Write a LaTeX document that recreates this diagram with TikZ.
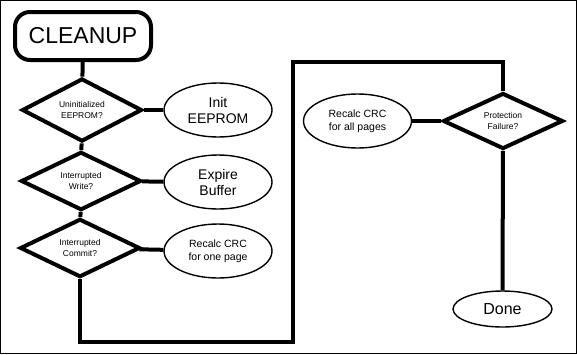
\documentclass[tikz,border=0pt]{standalone}
\usepackage{fontspec}
\setmainfont{Liberation Sans}
\usetikzlibrary{shapes.geometric}
\begin{document}
\begin{tikzpicture}[x=1pt,y=-1pt,
	test/.style={diamond, draw, line width=4pt, minimum width=120pt, minimum height=56pt,
		inner sep=0pt, align=center, font=\fontsize{8.5}{11}\selectfont},
	task/.style={ellipse, draw, line width=1.4pt, minimum width=108pt, minimum height=54pt,
		inner sep=0pt, align=center},
	conn/.style={line width=4pt}]
	\useasboundingbox (0,0) rectangle (577,354);
	\draw[line width=1pt] (0.5,0.5) rectangle (576.5,353.5);
	% left column
	\node[draw, line width=4pt, rounded corners=15pt, minimum width=136pt, minimum height=48pt,
		font=\fontsize{23}{26}\selectfont] (cleanup) at (83,36) {CLEANUP};
	\node[test] (uninit) at (82,110) {Uninitialized\\EEPROM?};
	\node[test] (intwrite) at (81,181) {Interrupted\\Write?};
	\node[test] (intcommit) at (80,248) {Interrupted\\Commit?};
	\node[task, font=\fontsize{14}{16}\selectfont] (initee) at (218,110) {Init\\EEPROM};
	\node[task, font=\fontsize{14}{16}\selectfont] (expire) at (218,182) {Expire\\Buffer};
	\node[task, font=\fontsize{10.5}{13}\selectfont] (crcone) at (218,251) {Recalc CRC\\for one page};
	% right column
	\node[test] (protfail) at (503,121) {Protection\\Failure?};
	\node[task, font=\fontsize{10.5}{13}\selectfont] (crcall) at (357.5,121) {Recalc CRC\\for all pages};
	\node[task, minimum width=99pt, minimum height=36pt, font=\fontsize{16}{18}\selectfont]
		(done) at (502.5,309) {Done};
	\coordinate (loopa) at (293,342);
	\coordinate (loopb) at (293,62);
	% connectors
	\draw[conn] (cleanup) -- (uninit);
	\draw[conn] (uninit) -- (intwrite);
	\draw[conn] (intwrite) -- (intcommit);
	\draw[conn] (uninit) -- (initee);
	\draw[conn] (intwrite) -- (expire);
	\draw[conn] (intcommit) -- (crcone);
	\draw[conn] (intcommit.south) |- (loopa) -- (loopb) -| (protfail.north);
	\draw[conn] (crcall) -- (protfail);
	\draw[conn] (protfail) -- (done);
\end{tikzpicture}
\end{document}
